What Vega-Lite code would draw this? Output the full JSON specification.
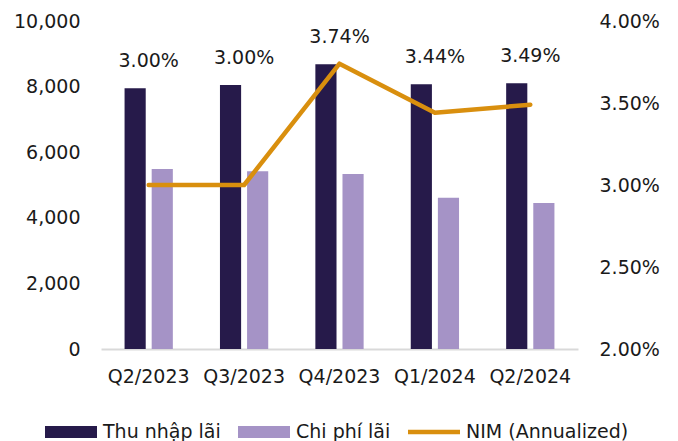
{
  "$schema": "https://vega.github.io/schema/vega-lite/v6.json",
  "width": 477,
  "height": 328,
  "autosize": {"type": "none"},
  "padding": {"left": 101, "top": 21, "right": 100, "bottom": 92},
  "background": "white",
  "config": {
    "view": {"stroke": null},
    "font": "DejaVu Sans",
    "axis": {"labelFont": "DejaVu Sans", "labelFontSize": 19, "labelColor": "#1a1a1a", "grid": false, "ticks": false, "title": null}
  },
  "data": {
    "values": [
      {"q": "Q2/2023", "Thu nhập lãi": 7950, "Chi phí lãi": 5490, "nim": 0.0300},
      {"q": "Q3/2023", "Thu nhập lãi": 8050, "Chi phí lãi": 5420, "nim": 0.0300},
      {"q": "Q4/2023", "Thu nhập lãi": 8680, "Chi phí lãi": 5335, "nim": 0.0374},
      {"q": "Q1/2024", "Thu nhập lãi": 8070, "Chi phí lãi": 4615, "nim": 0.0344},
      {"q": "Q2/2024", "Thu nhập lãi": 8100, "Chi phí lãi": 4450, "nim": 0.0349}
    ]
  },
  "encoding": {
    "x": {
      "field": "q", "type": "nominal", "sort": null,
      "scale": {"paddingInner": 0.494, "paddingOuter": 0.247},
      "axis": {"labelAngle": 0, "domainColor": "#d9d9d9", "domainWidth": 2, "labelPadding": 18}
    }
  },
  "layer": [
    {
      "layer": [
        {
          "transform": [{"fold": ["Thu nhập lãi", "Chi phí lãi"], "as": ["series", "value"]}],
          "mark": {"type": "bar"},
          "encoding": {
            "xOffset": {"field": "series", "type": "nominal", "sort": ["Thu nhập lãi", "Chi phí lãi"], "scale": {"paddingInner": 0.22, "paddingOuter": 0}},
            "y": {
              "field": "value", "type": "quantitative",
              "scale": {"domain": [0, 10000]},
              "axis": {"orient": "left", "values": [0, 2000, 4000, 6000, 8000, 10000], "format": ",d", "domain": false, "labelPadding": 21}
            },
            "color": {
              "field": "series", "type": "nominal",
              "scale": {"domain": ["Thu nhập lãi", "Chi phí lãi", "NIM (Annualized)"], "range": ["#261A4A", "#A593C6", "#D98F0E"]},
              "legend": {
                "orient": "none", "legendX": -56, "legendY": 385, "direction": "horizontal", "title": null,
                "symbolType": "M-1,-0.23H1V0.23H-1Z", "symbolSize": 2704, "symbolStrokeWidth": 0,
                "labelFontSize": 19, "labelFont": "DejaVu Sans", "labelColor": "#1a1a1a",
                "labelOffset": 6, "columnPadding": 17, "labelLimit": 300,
                "encode": {
                  "symbols": {
                    "update": {
                      "shape": {"signal": "datum.value === 'NIM (Annualized)' ? 'M-1,-0.09H1V0.09H-1Z' : 'M-1,-0.23H1V0.23H-1Z'"},
                      "fill": {"scale": "color", "field": "value"},
                      "opacity": {"value": 1}
                    }
                  }
                }
              }
            }
          }
        },
        {
          "mark": {"type": "text", "dy": -27, "fontSize": 19, "font": "DejaVu Sans", "color": "#1a1a1a"},
          "encoding": {
            "y": {"field": "Thu nhập lãi", "type": "quantitative", "scale": {"domain": [0, 10000]}},
            "text": {"field": "nim", "type": "quantitative", "format": ".2%"}
          }
        }
      ]
    },
    {
      "mark": {"type": "line", "strokeWidth": 4.5, "strokeCap": "round", "strokeJoin": "round"},
      "encoding": {
        "y": {
          "field": "nim", "type": "quantitative",
          "scale": {"domain": [0.02, 0.04]},
          "axis": {"orient": "right", "values": [0.02, 0.025, 0.03, 0.035, 0.04], "format": ".2%", "domain": false, "labelPadding": 21}
        },
        "color": {"datum": "NIM (Annualized)"}
      }
    }
  ],
  "resolve": {"scale": {"y": "independent"}}
}
